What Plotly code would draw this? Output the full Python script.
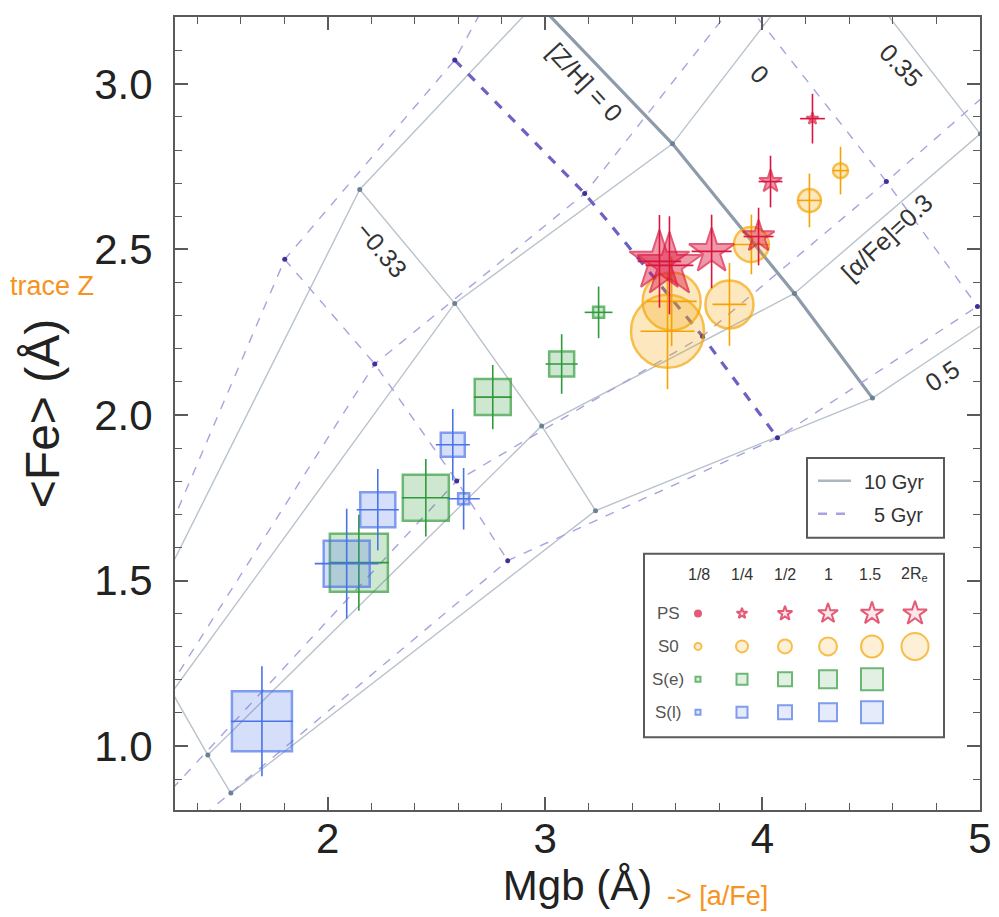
import plotly.graph_objects as go

# ---------------- data ----------------
AFE_LEVELS = ["-0.3", "0", "0.3", "0.5"]

# 10 Gyr model grid: one row per [Z/H], columns follow AFE_LEVELS
ZH10 = ["-1.35", "-0.33", "0", "0.35"]
g10_mgb = [[1.182, 1.283, 1.448, 1.554],
           [2.147, 2.584, 2.984, 3.232],
           [2.961, 3.586, 4.147, 4.506],
           [3.700, 4.308, 5.002, 5.434]]
g10_fe = [[1.416, 1.163, 0.973, 0.858],
          [2.681, 2.337, 1.967, 1.711],
          [3.247, 2.819, 2.367, 2.051],
          [3.750, 3.434, 2.849, 2.458]]

# 5 Gyr model grid
ZH5 = ["-1.35", "-0.33", "0", "0.35", "0.67"]
g5_mgb = [[1.182, 1.228, 1.228, 1.366],
          [1.802, 2.216, 2.593, 2.828],
          [2.584, 3.182, 3.724, 4.069],
          [2.791, 3.899, 4.570, 4.989],
          [None, None, 5.136, None]]
g5_fe = [[1.518, 1.133, 0.831, 0.756],
         [2.470, 2.154, 1.801, 1.560],
         [3.072, 2.669, 2.238, 1.931],
         [3.322, 3.265, 2.705, 2.328],
         [None, None, 3.030, None]]

# galaxy radial bins
radii = ["1/8", "1/4", "1/2", "1", "1.5", "2R<sub>e</sub>"]

ps_mgb = [4.230, 4.037, 3.982, 3.766, 3.526, 3.572]
ps_fe = [2.895, 2.705, 2.539, 2.494, 2.464, 2.452]
ps_emgb = [0.057, 0.055, 0.069, 0.092, 0.100, 0.110]
ps_efe = [0.075, 0.078, 0.087, 0.111, 0.140, 0.148]

s0_mgb = [4.359, 4.216, 3.949, 3.848, 3.582, 3.563]
s0_fe = [2.738, 2.648, 2.515, 2.334, 2.343, 2.253]
s0_emgb = [0.037, 0.055, 0.083, 0.078, 0.115, 0.124]
s0_efe = [0.072, 0.081, 0.090, 0.125, 0.135, 0.175]

se_mgb = [3.246, 3.076, 2.759, 2.451, 2.143]
se_fe = [2.310, 2.154, 2.054, 1.750, 1.554]
se_emgb = [0.064, 0.074, 0.087, 0.110, 0.138]
se_efe = [0.078, 0.090, 0.097, 0.117, 0.145]

sl_mgb = [2.625, 2.575, 2.230, 2.087, 1.697]
sl_fe = [1.747, 1.910, 1.714, 1.551, 1.075]
sl_emgb = [0.074, 0.078, 0.097, 0.147, 0.143]
sl_efe = [0.093, 0.108, 0.123, 0.166, 0.166]

x_ticks = [2, 3, 4, 5]
y_ticks = [1.0, 1.5, 2.0, 2.5, 3.0]

# ---------------- style ----------------
FONT = "Liberation Sans"
C10 = "#b9c3cd"
C10_THICK = "#8d9baa"
C5 = "#a9a2de"
C5_THICK = "#6c61c4"
RED, RED_F = "#d9163f", "rgba(220,20,60,0.62)"
ORA, ORA_F = "#f5a300", "rgba(245,163,0,0.36)"
GRN, GRN_F = "#2f9a3a", "rgba(47,154,58,0.33)"
BLU, BLU_F = "#4a73e8", "rgba(74,115,232,0.32)"

# plot area in page pixels (page has an 8px body margin)
OFF = 8
L, R, T, B = 175, 980, 15, 810
FIG_W, FIG_H = 999 - OFF, 917 - OFF


def paper(px, py):
    return (px - L) / (R - L), (B - py) / (B - T)


fig = go.Figure()

# ---- model grids ----
def add_grid(mgb, fe, color, thick_color, dash, thick_idx):
    nz = len(mgb)
    for i in range(nz):
        fig.add_trace(go.Scatter(
            x=mgb[i], y=fe[i], mode="lines", showlegend=False, hoverinfo="skip",
            line=dict(color=thick_color if i == thick_idx else color,
                      width=3.2 if i == thick_idx else 1.4, dash=dash)))
    for j in range(len(AFE_LEVELS)):
        fig.add_trace(go.Scatter(
            x=[mgb[i][j] for i in range(nz)], y=[fe[i][j] for i in range(nz)],
            mode="lines", showlegend=False, hoverinfo="skip", connectgaps=False,
            line=dict(color=color, width=1.4, dash=dash)))


add_grid(g10_mgb, g10_fe, C10, C10_THICK, "solid", 2)
add_grid(g5_mgb, g5_fe, C5, C5_THICK, "dash", 2)

fig.add_trace(go.Scatter(
    x=[v for row in g10_mgb for v in row], y=[v for row in g10_fe for v in row],
    mode="markers", showlegend=False, hoverinfo="skip",
    marker=dict(color="#6a8292", size=5)))
fig.add_trace(go.Scatter(
    x=[v for row in g5_mgb for v in row], y=[v for row in g5_fe for v in row],
    mode="markers", showlegend=False, hoverinfo="skip",
    marker=dict(color="#3c3299", size=5)))

# ---- galaxies ----
def add_pts(name, x, y, ex, ey, sizes, symbol, col, fill, lw):
    fig.add_trace(go.Scatter(
        name=name, x=x, y=y, mode="markers", showlegend=False,
        error_x=dict(type="data", array=ex, width=0, thickness=1.6, color=col),
        error_y=dict(type="data", array=ey, width=0, thickness=1.6, color=col),
        marker=dict(symbol=symbol, size=sizes, color=fill,
                    line=dict(color=col, width=lw))))


add_pts("S(e)", se_mgb, se_fe, se_emgb, se_efe, [11, 25, 36, 46, 58], "square", GRN, GRN_F, 2.5)
add_pts("S(l)", sl_mgb, sl_fe, sl_emgb, sl_efe, [11, 24, 35, 46, 60], "square", BLU, BLU_F, 2.5)
add_pts("S0", s0_mgb, s0_fe, s0_emgb, s0_efe, [15, 23, 35, 48, 58, 73], "circle", ORA, ORA_F, 2.5)
add_pts("PS", ps_mgb, ps_fe, ps_emgb, ps_efe, [9, 17, 24, 34, 45, 48], "star", RED, RED_F, 2)

# ---- custom legend (overlay axes in pixel units) ----
leg_cols = [698, 742, 785, 828, 872, 915]
leg_rows = [613, 646, 679, 712]
leg_sizes = [[6, 8, 11, 15, 17, 18],
             [7, 12, 14, 18, 22, 27],
             [5, 11, 14, 18, 22],
             [5, 11, 14, 18, 22]]
leg_sym = [["circle"] + ["star"] * 5, ["circle"] * 6, ["square"] * 5, ["square"] * 5]
leg_col = [RED, ORA, GRN, BLU]
leg_fill = ["rgba(220,20,60,0.15)", "rgba(245,163,0,0.22)", "rgba(47,154,58,0.2)", "rgba(74,115,232,0.2)"]
for k in range(4):
    n = len(leg_sizes[k])
    fills = [leg_fill[k]] * n
    if k == 0:
        fills[0] = RED
    fig.add_trace(go.Scatter(
        x=leg_cols[:n], y=[leg_rows[k]] * n, xaxis="x2", yaxis="y2",
        mode="markers", showlegend=False, hoverinfo="skip",
        marker=dict(symbol=leg_sym[k], size=leg_sizes[k], color=fills,
                    line=dict(color=leg_col[k], width=2))))

# ---- layout ----
axis_common = dict(showgrid=False, zeroline=False, showline=True, linecolor="#5a5a5a",
                   linewidth=2, mirror="allticks", ticks="inside", ticklen=13,
                   tickwidth=1.5, tickcolor="#5a5a5a",
                   tickfont=dict(family=FONT, size=42, color="#222"))

fig.update_layout(
    width=FIG_W, height=FIG_H,
    margin=dict(l=L - OFF, r=FIG_W - (R - OFF), t=T - OFF, b=FIG_H - (B - OFF)),
    paper_bgcolor="white", plot_bgcolor="white",
    font=dict(family=FONT, color="#222"),
    xaxis=dict(range=[1.297, 5.0008], tickvals=x_ticks,
               minor=dict(ticks="inside", ticklen=7, dtick=0.2, tick0=0,
                          tickcolor="#5a5a5a", tickwidth=1.2),
               ticklabelstandoff=-9,
               title=dict(text="Mgb (Å)", font=dict(family=FONT, size=42, color="#222"),
                          standoff=8),
               **axis_common),
    yaxis=dict(range=[0.807, 3.202], tickvals=y_ticks, tickformat=".1f",
               minor=dict(ticks="inside", ticklen=7, dtick=0.1, tick0=0,
                          tickcolor="#5a5a5a", tickwidth=1.2),
               ticklabelstandoff=12,
               title=dict(text="&lt;Fe&gt; (Å)", font=dict(family=FONT, size=48, color="#222"),
                          standoff=19),
               **axis_common),
    xaxis2=dict(range=[L, R], overlaying="x", visible=False, fixedrange=True),
    yaxis2=dict(range=[B, T], overlaying="y", visible=False, fixedrange=True),
)


def label(txt, gx, gy, size, color, angle=0, xanchor="center"):
    a, b = paper(gx, gy)
    fig.add_annotation(x=a, y=b, xref="paper", yref="paper", text=txt, showarrow=False,
                       textangle=angle, xanchor=xanchor, yanchor="middle",
                       font=dict(family=FONT, size=size, color=color))


# grid labels
grid_labels = [("[Z/H] = 0", 585, 80, 47), ("−0.33", 381, 248, 50), ("0", 760, 72, 46),
               ("0.35", 901, 63, 46), ("[α/Fe]=0.3", 887, 236, -43), ("0.5", 942, 375, -33)]
for txt, gx, gy, ang in grid_labels:
    label(txt, gx, gy, 25, "#333", ang)

# legend boxes
shapes = []
for (x0, y0, x1, y1) in [(807, 457, 944, 537), (644, 553, 944, 737)]:
    a0, b0 = paper(x0, y1)
    a1, b1 = paper(x1, y0)
    shapes.append(dict(type="rect", xref="paper", yref="paper", x0=a0, y0=b0, x1=a1, y1=b1,
                       line=dict(color="#5a5a5a", width=2), fillcolor="rgba(0,0,0,0)", layer="above"))
for (yy, col, dash) in [(480, "#aab6c2", "solid"), (513, C5, "dash")]:
    a0, b = paper(818, yy)
    a1, _ = paper(851, yy)
    shapes.append(dict(type="line", xref="paper", yref="paper", x0=a0, y0=b, x1=a1, y1=b,
                       line=dict(color=col, width=2.5, dash=dash), layer="above"))
fig.update_layout(shapes=shapes)

label("10 Gyr", 862, 481, 20, "#333", xanchor="left")
label("5 Gyr", 872, 514, 20, "#333", xanchor="left")

for lbl, cx in zip(radii, [699, 742, 785, 828, 870, 914]):
    label(lbl, cx, 574, 16, "#333")
for lbl, ry in zip(["PS", "S0", "S(e)", "S(l)"], leg_rows):
    label(lbl, 668, ry, 17, "#555")

# orange side notes
label("trace Z", 8, 285, 27, "#f7931e", xanchor="left")
label("-> [a/Fe]", 665, 896, 27, "#f7931e", xanchor="left")
label("t", 989, 380, 26, "#f7931e", xanchor="left")

fig.write_html("out.html")
